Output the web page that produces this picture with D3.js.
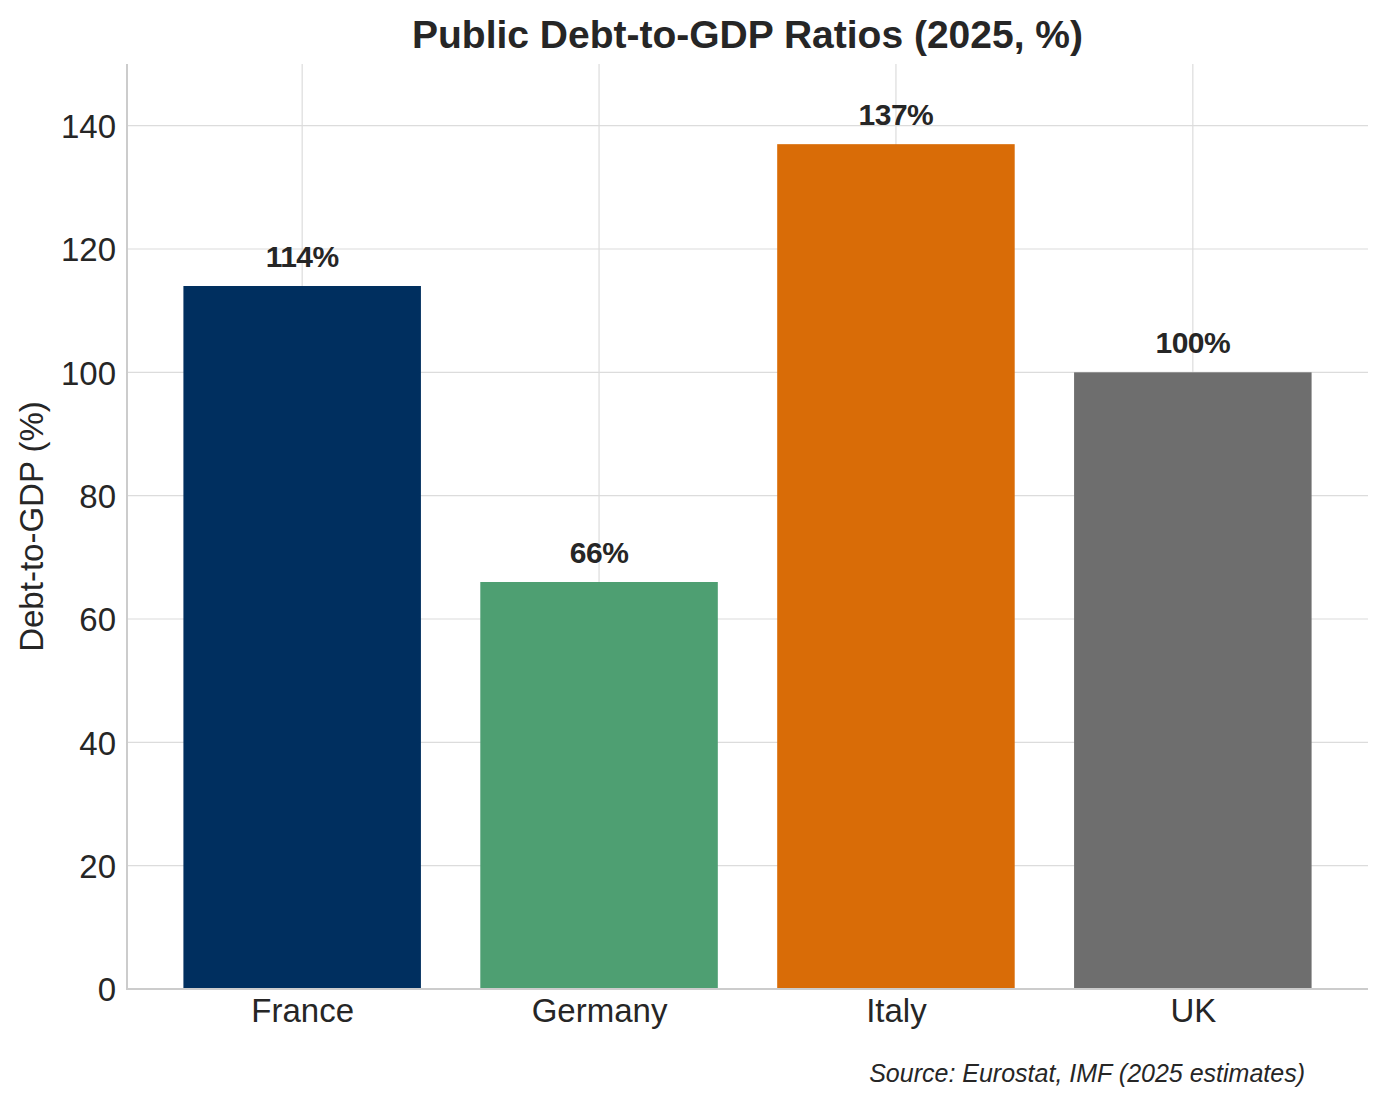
<!DOCTYPE html>
<html>
<head>
<meta charset="utf-8">
<script src="https://cdn.jsdelivr.net/npm/d3@7"></script>
<style>
  body { margin: 0; background: #fff; }
  text { font-family: "Liberation Sans", Arial, sans-serif; fill: #262626; }
</style>
</head>
<body>
<script>
// data
const countries = ["France", "Germany", "Italy", "UK"]
const debtRatios = [114, 66, 137, 100]
const barColors = ["#002f5f", "#4e9f72", "#d96c07", "#6e6e6e"]
const yTicks = [0, 20, 40, 60, 80, 100, 120, 140]

const width = 1387
const height = 1106
const marginTop = 64
const marginRight = 19 // plot ends at 1368
const marginBottom = 117 // axis at 989
const marginLeft = 127

const svg = d3.select("body").append("svg")
    .attr("width", width)
    .attr("height", height)

// matplotlib-style x: bars at 0..3, width 0.8, 5% margins
const xScale = d3.scaleLinear()
    .domain([-0.59, countries.length - 1 + 0.59])
    .range([marginLeft, width - marginRight])

const yScale = d3.scaleLinear()
    .domain([0, 150])
    .range([height - marginBottom, marginTop])

const barW = xScale(0.8) - xScale(0)

// grid lines
svg.append("g")
    .selectAll("line")
    .data(yTicks)
    .join("line")
    .attr("x1", marginLeft)
    .attr("x2", width - marginRight)
    .attr("y1", d => yScale(d))
    .attr("y2", d => yScale(d))
    .attr("stroke", "#dcdcdc")
    .attr("stroke-width", 1.2)

svg.append("g")
    .selectAll("line")
    .data(countries)
    .join("line")
    .attr("x1", (d, i) => xScale(i))
    .attr("x2", (d, i) => xScale(i))
    .attr("y1", marginTop)
    .attr("y2", height - marginBottom)
    .attr("stroke", "#dcdcdc")
    .attr("stroke-width", 1.2)

// bars
svg.append("g")
    .selectAll("rect")
    .data(debtRatios)
    .join("rect")
    .attr("x", (d, i) => xScale(i) - barW / 2)
    .attr("y", d => yScale(d))
    .attr("width", barW)
    .attr("height", d => yScale(0) - yScale(d))
    .attr("fill", (d, i) => barColors[i])

// value labels
svg.append("g")
    .selectAll("text")
    .data(debtRatios)
    .join("text")
    .attr("x", (d, i) => xScale(i))
    .attr("y", d => yScale(d) - 19)
    .attr("text-anchor", "middle")
    .style("font-size", "30px")
    .style("font-weight", "bold")
    .style("letter-spacing", "-0.5px")
    .text(d => `${d}%`)

// spines
svg.append("line")
    .attr("x1", marginLeft).attr("x2", marginLeft)
    .attr("y1", marginTop).attr("y2", height - marginBottom + 1)
    .attr("stroke", "#cccccc")
    .attr("stroke-width", 2)

svg.append("line")
    .attr("x1", marginLeft - 1).attr("x2", width - marginRight)
    .attr("y1", height - marginBottom).attr("y2", height - marginBottom)
    .attr("stroke", "#cccccc")
    .attr("stroke-width", 2)

// axes (no tick marks, just labels)
const yAxis = d3.axisLeft(yScale).tickValues(yTicks).tickSize(0).tickPadding(11)
svg.append("g")
    .attr("transform", `translate(${marginLeft},0)`)
    .call(yAxis)
    .call(g => g.select(".domain").remove())
    .call(g => g.selectAll("text")
        .style("font-size", "33px")
        .style("font-family", "'Liberation Sans', Arial, sans-serif")
        .attr("fill", "#262626")
        .attr("dy", "0.36em"))

const xAxis = d3.axisBottom(xScale).tickValues(d3.range(countries.length))
    .tickFormat(i => countries[i]).tickSize(0).tickPadding(10)
svg.append("g")
    .attr("transform", `translate(0,${height - marginBottom})`)
    .call(xAxis)
    .call(g => g.select(".domain").remove())
    .call(g => g.selectAll("text")
        .style("font-size", "33px")
        .style("font-family", "'Liberation Sans', Arial, sans-serif")
        .attr("fill", "#262626")
        .attr("dy", null)
        .attr("y", 33))

// y label
svg.append("text")
    .attr("transform", `translate(43,${(marginTop + height - marginBottom) / 2}) rotate(-90)`)
    .attr("text-anchor", "middle")
    .style("font-size", "33px")
    .text("Debt-to-GDP (%)")

// title
svg.append("text")
    .attr("x", (marginLeft + width - marginRight) / 2)
    .attr("y", 48)
    .attr("text-anchor", "middle")
    .style("font-size", "39px")
    .style("font-weight", "bold")
    .text("Public Debt-to-GDP Ratios (2025, %)")

// source note
svg.append("text")
    .attr("x", 1305)
    .attr("y", 1082)
    .attr("text-anchor", "end")
    .style("font-size", "25px")
    .style("font-style", "italic")
    .text("Source: Eurostat, IMF (2025 estimates)")
</script>
</body>
</html>
